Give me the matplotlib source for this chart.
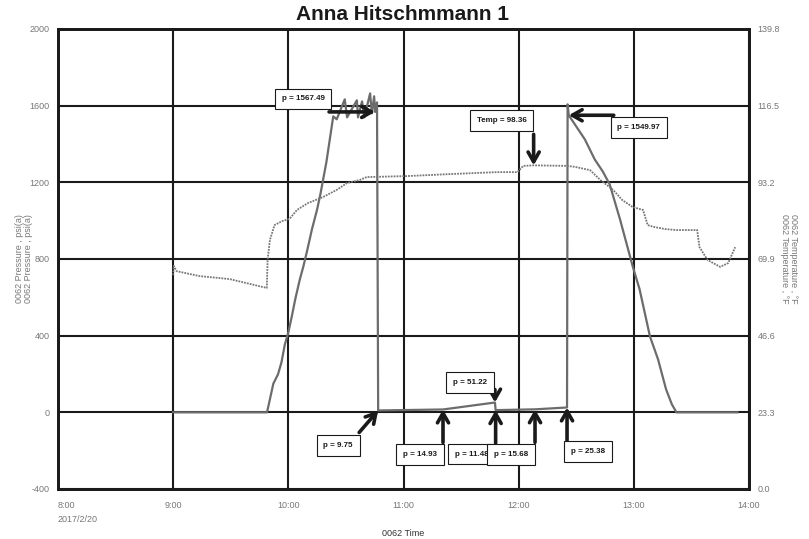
import matplotlib
matplotlib.use("Agg")
import matplotlib.pyplot as plt

plt.rcParams['font.family'] = ['Liberation Sans Narrow', 'Liberation Sans', 'DejaVu Sans']

# time in hours of 2017/2/20
pres_t = [9.00, 9.815, 9.87, 9.91, 9.94, 9.97, 10.00, 10.03, 10.06, 10.10, 10.13, 10.16,
          10.205, 10.25, 10.28, 10.33, 10.39, 10.42, 10.49, 10.51, 10.595, 10.605, 10.64,
          10.66, 10.71, 10.725, 10.745, 10.753, 10.77, 10.78, 11.343, 11.794, 11.80,
          12.142, 12.42, 12.425, 12.435, 12.575, 12.66, 12.73, 12.79, 12.88, 12.99, 13.05,
          13.14, 13.21, 13.28, 13.33, 13.37, 13.90]
pres_v = [0, 0, 150, 198, 260, 355, 417, 500, 590, 694, 760, 835,
          955, 1059, 1143, 1304, 1544, 1529, 1633, 1539, 1628, 1539, 1622,
          1539, 1664, 1560, 1649, 1567.49, 1617, 9.75, 14.93, 51.22, 11.48,
          15.68, 25.38, 1607, 1549.97, 1424, 1320, 1257, 1190, 1007, 762, 642,
          396, 277, 120, 42, 0, 0]

temp_t = [9.00, 9.005, 9.03, 9.23, 9.49, 9.67, 9.813, 9.82, 9.84, 9.88, 9.945, 10.01,
          10.075, 10.17, 10.30, 10.42, 10.51, 10.62, 10.68, 11.03, 11.40, 11.81, 11.99,
          12.04, 12.13, 12.42, 12.49, 12.62, 12.71, 12.82, 12.90, 12.99, 13.08, 13.12,
          13.18, 13.27, 13.37, 13.55, 13.57, 13.64, 13.75, 13.82, 13.88]
temp_v = [65.0, 67.8, 66.2, 64.7, 63.8, 62.3, 61.1, 69.6, 75.7, 80.2, 81.4, 82.1,
          84.8, 86.9, 88.7, 90.9, 93.0, 93.9, 94.8, 95.1, 95.7, 96.3, 96.3,
          98.2, 98.36, 98.2, 97.9, 96.9, 93.9, 90.9, 87.8, 85.7, 84.8, 80.2,
          79.6, 79.0, 78.7, 78.7, 73.5, 69.6, 67.5, 68.7, 73.5]

x_ticks = [8, 9, 10, 11, 12, 13, 14]
x_labels = ['8:00\n2017/2/20', '9:00', '10:00', '11:00', '12:00', '13:00', '14:00']
p_ticks = [-400, 0, 400, 800, 1200, 1600, 2000]
t_ticks = [0.0, 23.3, 46.6, 69.9, 93.2, 116.5, 139.8]

# (series, time, value, label)
notes = [('p', 10.753, 1567.49, 'p = 1567.49'),
         ('T', 12.13, 98.36, 'Temp = 98.36'),
         ('p', 12.435, 1549.97, 'p = 1549.97'),
         ('p', 10.78, 9.75, 'p = 9.75'),
         ('p', 11.343, 14.93, 'p = 14.93'),
         ('p', 11.794, 51.22, 'p = 51.22'),
         ('p', 11.80, 11.48, 'p = 11.48'),
         ('p', 12.142, 15.68, 'p = 15.68'),
         ('p', 12.42, 25.38, 'p = 25.38')]
# box centre offsets and arrow tail offsets from the point (pixels)
box_off = [(-72, 13), (-32, 45), (70, -12), (-40, -35), (-23, -45),
           (-25, 20), (-24, -44), (-24, -45), (21, -44)]
tail_off = [(-46, 0), (0, 31), (45, 0), (-19, -22), (0, -33),
            (0, 13), (0, -33), (0, -33), (0, -33)]

fig = plt.figure(figsize=(8.09, 5.39), dpi=100)
ax = fig.add_axes([58 / 809, 1 - 489 / 539, 691 / 809, 460 / 539])
ax2 = ax.twinx()

ax.set_xlim(8, 14)
ax.set_ylim(-400, 2000)
ax2.set_ylim(0, 139.8)

ax.set_xticks(x_ticks)
ax.set_xticklabels(x_labels, linespacing=1.6)
ax.get_xticklabels()[0].set_horizontalalignment('left')
ax.set_yticks(p_ticks)
ax.set_yticklabels([str(v) for v in p_ticks])
ax2.set_yticks(t_ticks)
ax2.set_yticklabels(['%.1f' % v for v in t_ticks])

ax.grid(True, color='#1a1a1a', lw=1.5)
ax.set_axisbelow(True)
ax.tick_params(length=0, labelsize=6.5, labelcolor='#777777', pad=6)
ax.tick_params(axis='x', pad=9)
ax2.tick_params(length=0, labelsize=6.5, labelcolor='#777777', pad=6)
for sp in list(ax.spines.values()) + list(ax2.spines.values()):
    sp.set_linewidth(2)
    sp.set_color('#1a1a1a')

ax2.plot(temp_t, temp_v, color='#777777', lw=1.3, ls=(0, (1, 0.6)))
ax.plot(pres_t, pres_v, color='#6c6c6c', lw=1.6)

for (s, t, v, txt), bo, to in zip(notes, box_off, tail_off):
    a = ax if s == 'p' else ax2
    a.annotate('', xy=(t, v), xytext=to, textcoords='offset pixels',
               arrowprops=dict(arrowstyle='->,head_length=0.7,head_width=0.4',
                               mutation_scale=10, color='#1a1a1a', lw=2.6,
                               shrinkA=0, shrinkB=0),
               zorder=5)
    a.annotate(txt, xy=(t, v), xytext=bo, textcoords='offset pixels',
               ha='center', va='center', fontsize=5.8, fontweight='bold', color='#1a1a1a',
               bbox=dict(boxstyle='square,pad=0.84', fc='white', ec='#1a1a1a', lw=0.8),
               zorder=6)

ax.set_ylabel('0062 Pressure , psi(a)\n0062 Pressure , psi(a)', fontsize=6.5,
              color='#777777', linespacing=1.0)
ax.yaxis.set_label_coords(-0.036, 0.5)
ax2.set_ylabel('0062 Temperature , °F\n0062 Temperature , °F', fontsize=6.5,
               color='#777777', rotation=270, linespacing=1.0)
ax2.yaxis.set_label_coords(1.071, 0.5)
ax.set_xlabel('0062 Time', fontsize=6.5, color='#333333')
ax.xaxis.set_label_coords(0.5, -0.088)

fig.text(403 / 809, 1 - 14 / 539, 'Anna Hitschmmann 1', ha='center', va='center',
         fontsize=15, fontweight='bold', color='#1a1a1a',
         family=['Liberation Sans', 'DejaVu Sans'])

fig.savefig('out.png', dpi=100)
